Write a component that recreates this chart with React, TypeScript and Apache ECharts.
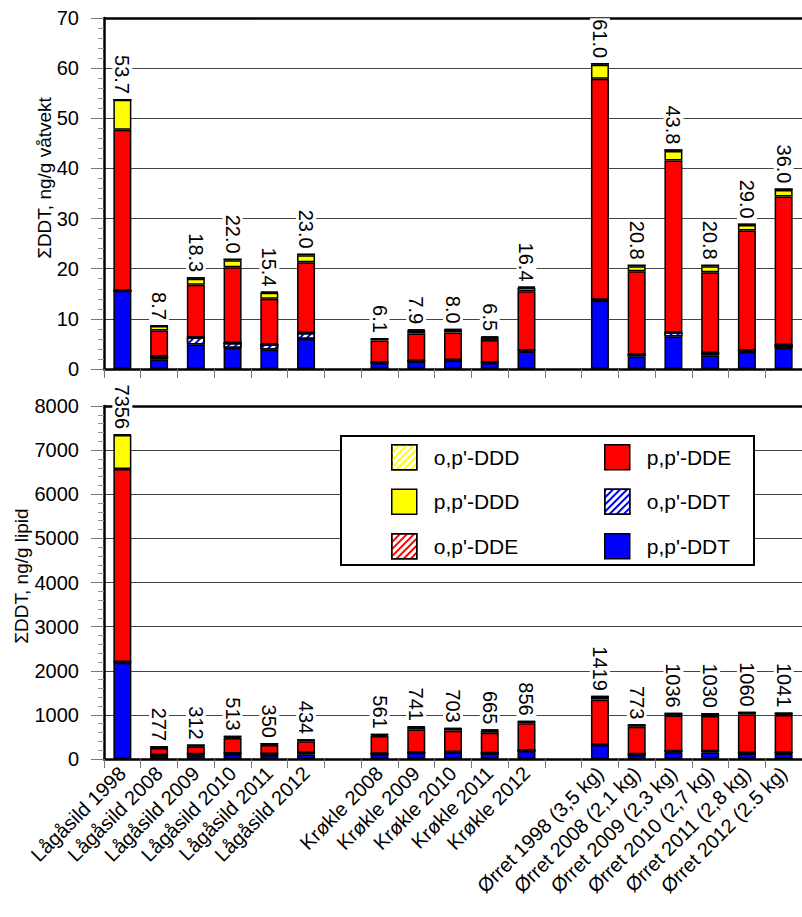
import React, { useEffect, useRef } from "react";
import * as echarts from "echarts";

const FONT = "'Liberation Sans', Arial, Helvetica, sans-serif";

const categories = [
  "Lågåsild 1998", "Lågåsild 2008", "Lågåsild 2009", "Lågåsild 2010", "Lågåsild 2011", "Lågåsild 2012",
  " ",
  "Krøkle 2008", "Krøkle 2009", "Krøkle 2010", "Krøkle 2011", "Krøkle 2012",
  "  ",
  "Ørret 1998 (3,5 kg)", "Ørret 2008 (2,1 kg)", "Ørret 2009 (2,3 kg)", "Ørret 2010 (2,7 kg)",
  "Ørret 2011 (2,8 kg)", "Ørret 2012 (2.5 kg)",
];

const seriesNames = ["p,p'-DDT", "o,p'-DDT", "o,p'-DDE", "p,p'-DDE", "p,p'-DDD", "o,p'-DDD"];

// ng/g våtvekt (wet weight)
const ppDDT_w = [15.6, 1.9, 4.9, 4.2, 3.9, 6.0, null, 1.2, 1.5, 1.7, 1.2, 3.5, null, 13.6, 2.5, 6.5, 2.7, 3.4, 4.2];
const opDDT_w = [0, 0.6, 1.4, 1.0, 1.0, 1.2, null, 0.1, 0.1, 0.1, 0.1, 0.2, null, 0.2, 0.4, 0.8, 0.5, 0.3, 0.6];
const opDDE_w = [0, 0, 0, 0, 0, 0, null, 0, 0, 0, 0, 0, null, 0, 0, 0, 0, 0, 0];
const ppDDE_w = [32.1, 5.2, 10.5, 15.1, 9.1, 14.1, null, 4.4, 5.5, 5.5, 4.5, 11.8, null, 44.1, 16.6, 34.3, 16.1, 23.9, 29.6];
const ppDDD_w = [6.0, 0.9, 1.2, 1.4, 1.2, 1.4, null, 0.3, 0.6, 0.5, 0.5, 0.7, null, 2.8, 1.0, 1.9, 1.2, 1.1, 1.3];
const opDDD_w = [0, 0.1, 0.3, 0.3, 0.2, 0.3, null, 0.1, 0.2, 0.2, 0.2, 0.2, null, 0.3, 0.3, 0.3, 0.3, 0.3, 0.3];
const totals_w = [53.7, 8.7, 18.3, 22.0, 15.4, 23.0, null, 6.1, 7.9, 8.0, 6.5, 16.4, null, 61.0, 20.8, 43.8, 20.8, 29.0, 36.0];

// ng/g lipid
const ppDDT_l = [2180, 70, 85, 100, 90, 110, null, 110, 141, 149, 123, 183, null, 320, 95, 155, 150, 120, 125];
const opDDT_l = [20, 20, 25, 25, 25, 25, null, 10, 9, 9, 10, 10, null, 5, 15, 20, 25, 15, 20];
const opDDE_l = [0, 0, 0, 0, 0, 0, null, 0, 0, 0, 0, 0, null, 0, 0, 0, 0, 0, 0];
const ppDDE_l = [4370, 160, 175, 350, 205, 270, null, 403, 516, 483, 460, 616, null, 1020, 620, 810, 800, 880, 850];
const ppDDD_l = [770, 25, 22, 32, 25, 25, null, 28, 56, 44, 51, 37, null, 65, 36, 44, 48, 38, 39];
const opDDD_l = [16, 2, 5, 6, 5, 4, null, 10, 19, 18, 21, 10, null, 9, 7, 7, 7, 7, 7];
const totals_l = [7356, 277, 312, 513, 350, 434, null, 561, 741, 703, 665, 856, null, 1419, 773, 1036, 1030, 1060, 1041];

const hatch = (color: string) => ({
  symbol: "rect",
  symbolSize: 1,
  color,
  backgroundColor: "#ffffff",
  dashArrayX: [1, 0],
  dashArrayY: [1.3, 2.7],
  rotation: -Math.PI / 4,
});

const styles: Record<string, any> = {
  "p,p'-DDT": { color: "#0000ff" },
  "o,p'-DDT": { color: "#ffffff", decal: hatch("#0000ff") },
  "o,p'-DDE": { color: "#ffffff", decal: hatch("#ff0000") },
  "p,p'-DDE": { color: "#ff0000" },
  "p,p'-DDD": { color: "#ffff00" },
  "o,p'-DDD": { color: "#ffffff", decal: hatch("#ffff00") },
};

const wetSets = [ppDDT_w, opDDT_w, opDDE_w, ppDDE_w, ppDDD_w, opDDD_w];
const lipidSets = [ppDDT_l, opDDT_l, opDDE_l, ppDDE_l, ppDDD_l, opDDD_l];

function buildSeries(sets: (number | null)[][], axisIdx: number, totals: (number | null)[], digits: number) {
  return sets.map((data, i) => {
    const name = seriesNames[i];
    const isTop = i === sets.length - 1;
    return {
      name,
      type: "bar",
      stack: "s" + axisIdx,
      xAxisIndex: axisIdx * 2,
      yAxisIndex: axisIdx,
      barWidth: 18,
      data,
      itemStyle: { ...styles[name], borderColor: "#000", borderWidth: 1.5 },
      label: isTop
        ? {
            show: true,
            position: "top",
            rotate: -90,
            align: "right",
            verticalAlign: "middle",
            distance: 4,
            fontSize: 20,
            fontFamily: FONT,
            color: "#000",
            backgroundColor: "#fff",
            padding: [0, 1],
            formatter: (p: any) => {
              const t = totals[p.dataIndex];
              return t == null ? "" : t.toFixed(digits);
            },
          }
        : { show: false },
    };
  });
}

const axisText = { fontSize: 20, fontFamily: FONT, color: "#000" };

function yAxisDef(gridIndex: number, max: number, interval: number) {
  return {
    type: "value",
    gridIndex,
    min: 0,
    max,
    interval,
    axisLine: { show: true, lineStyle: { color: "#000", width: 2.5 } },
    axisTick: { show: true, length: 13, lineStyle: { color: "#777", width: 1 } },
    minorTick: { show: true, splitNumber: 5, length: 6, lineStyle: { color: "#999", width: 1 } },
    axisLabel: { ...axisText, margin: 25, formatter: (v: number) => String(v) },
    splitLine: { show: true, lineStyle: { color: "#444", width: 1 } },
  };
}

function xAxisDef(gridIndex: number, showLabels: boolean) {
  return {
    type: "category",
    gridIndex,
    data: categories,
    boundaryGap: true,
    axisLine: { show: true, lineStyle: { color: "#000", width: 2.5 } },
    axisTick: { show: true, interval: 0, length: 9, lineStyle: { color: "#777", width: 1 } },
    axisLabel: showLabels
      ? { ...axisText, interval: 0, rotate: 45, margin: 11 }
      : { show: false },
    splitLine: { show: false },
  };
}

function topFrame(gridIndex: number) {
  return {
    type: "category",
    gridIndex,
    position: "top",
    data: categories,
    axisLine: { show: true, lineStyle: { color: "#000", width: 2.5 } },
    axisTick: { show: false },
    axisLabel: { show: false },
    splitLine: { show: false },
  };
}

const legendCommon = {
  orient: "vertical",
  top: 444,
  itemWidth: 25,
  itemHeight: 25,
  itemGap: 18,
  padding: 0,
  icon: "rect",
  selectedMode: false,
  itemStyle: { borderColor: "#000", borderWidth: 1.5 },
  textStyle: { fontSize: 21, fontFamily: FONT, color: "#000", padding: [0, 0, 0, 12] },
};

export default function App() {
  const ref = useRef<HTMLDivElement>(null);

  useEffect(() => {
    if (!ref.current) return;
    const chart = echarts.init(ref.current, undefined, { renderer: "svg" });
    chart.setOption({
      animation: false,
      backgroundColor: "#fff",
      grid: [
        { left: 104, right: -7, top: 18, height: 351 },
        { left: 104, right: -7, top: 406, height: 353 },
      ],
      xAxis: [xAxisDef(0, false), topFrame(0), xAxisDef(1, true), topFrame(1)],
      yAxis: [yAxisDef(0, 70, 10), yAxisDef(1, 8000, 1000)],
      legend: [
        { ...legendCommon, left: 391, data: ["o,p'-DDD", "p,p'-DDD", "o,p'-DDE"] },
        { ...legendCommon, left: 604, data: ["p,p'-DDE", "o,p'-DDT", "p,p'-DDT"] },
      ],
      graphic: [
        {
          type: "rect",
          z: 3,
          shape: { x: 341, y: 436, width: 413, height: 129 },
          style: { fill: "#fff", stroke: "#000", lineWidth: 2 },
        },
        {
          type: "text",
          x: 44,
          y: 178,
          rotation: Math.PI / 2,
          style: {
            text: "ΣDDT, ng/g våtvekt",
            fontSize: 19,
            fontFamily: FONT,
            fill: "#000",
            align: "center",
            verticalAlign: "middle",
          },
        },
        {
          type: "text",
          x: 21,
          y: 576,
          rotation: Math.PI / 2,
          style: {
            text: "ΣDDT, ng/g lipid",
            fontSize: 19,
            fontFamily: FONT,
            fill: "#000",
            align: "center",
            verticalAlign: "middle",
          },
        },
      ],
      series: [
        ...buildSeries(wetSets, 0, totals_w, 1),
        ...buildSeries(lipidSets, 1, totals_l, 0),
      ],
    });
    return () => chart.dispose();
  }, []);

  return (
    <div
      ref={ref}
      style={{ position: "absolute", left: 0, top: 0, width: 802, height: 917, background: "#fff" }}
    />
  );
}
